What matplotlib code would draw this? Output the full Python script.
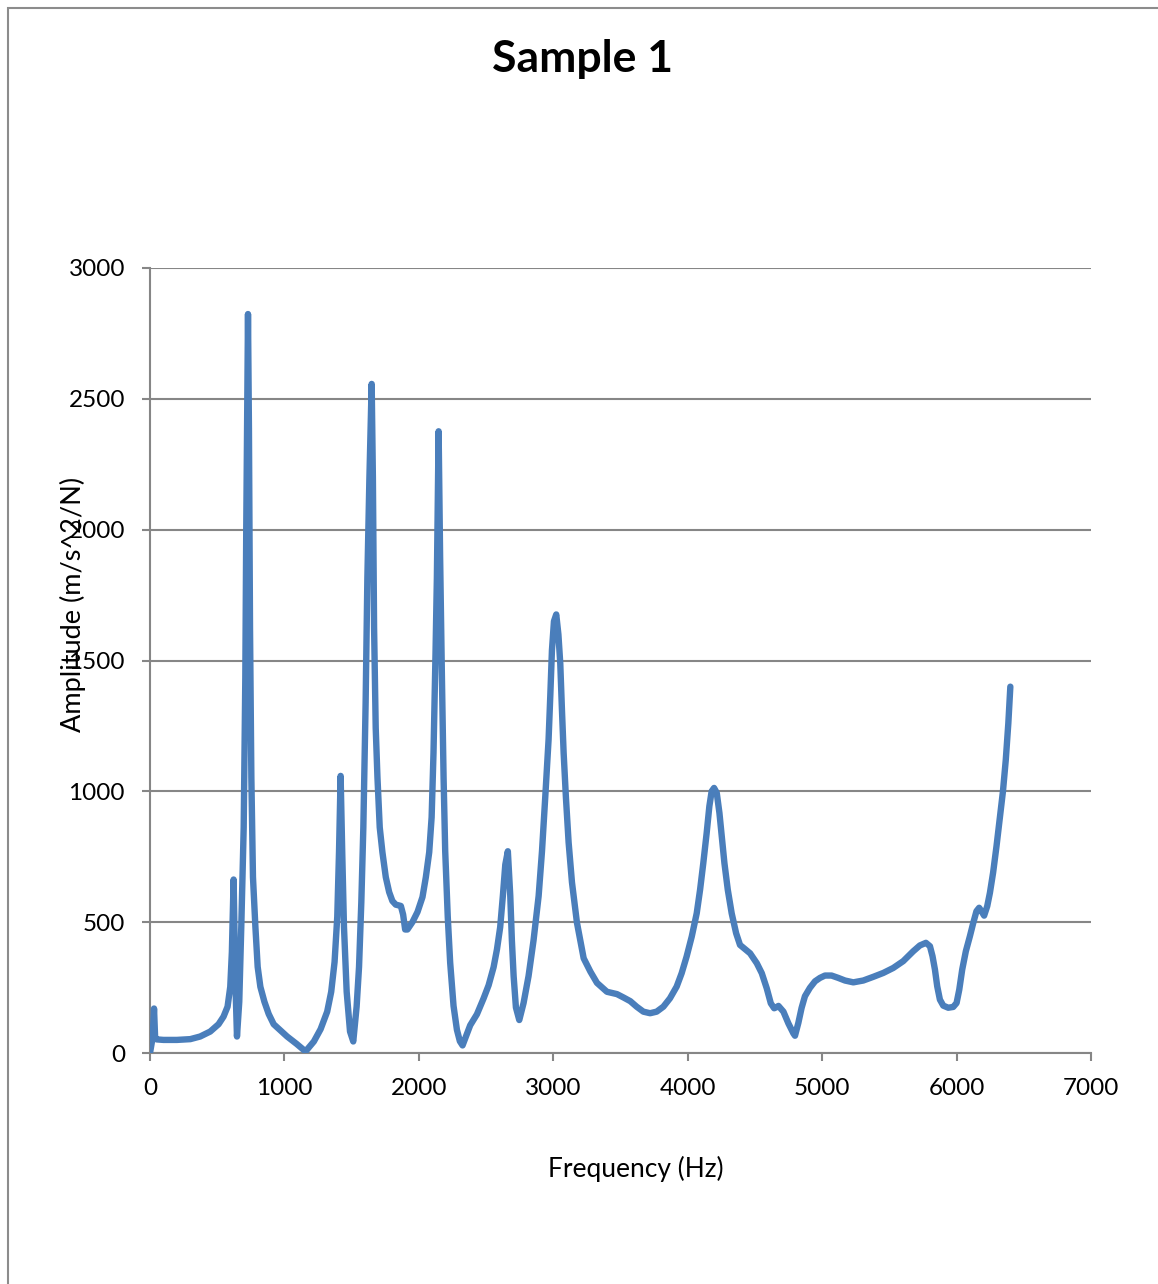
import matplotlib
matplotlib.use("Agg")
import matplotlib.pyplot as plt
from matplotlib.patches import Rectangle

plt.rcParams['font.family'] = ['Lato', 'DejaVu Sans']

# frequency response, Sample 1
freq = [0, 20, 30, 38, 50, 100, 200, 300, 373, 448, 510, 547, 577, 597, 609, 622,
        634, 647, 664, 679, 697, 709, 716, 724, 729, 736, 744, 754, 766, 784, 801,
        821, 851, 883, 920, 1020, 1090, 1157, 1219, 1269, 1318, 1348, 1373, 1393,
        1406, 1418, 1430, 1443, 1463, 1488, 1512, 1537, 1555, 1572, 1587, 1604,
        1617, 1632, 1649, 1658, 1667, 1679, 1692, 1709, 1729, 1754, 1779, 1803,
        1828, 1866, 1883, 1898, 1915, 1953, 1990, 2027, 2052, 2077, 2095, 2109,
        2124, 2134, 2147, 2158, 2171, 2184, 2196, 2215, 2233, 2258, 2283, 2305,
        2325, 2382, 2432, 2481, 2519, 2556, 2581, 2605, 2625, 2643, 2662, 2680,
        2692, 2705, 2722, 2747, 2779, 2816, 2853, 2891, 2916, 2940, 2965, 2978,
        2990, 3005, 3022, 3038, 3052, 3064, 3077, 3094, 3114, 3139, 3176, 3226,
        3276, 3325, 3399, 3474, 3523, 3573, 3620, 3670, 3720, 3769, 3819, 3868,
        3918, 3955, 3992, 4030, 4067, 4092, 4116, 4141, 4161, 4178, 4196, 4216,
        4236, 4253, 4273, 4298, 4327, 4360, 4389, 4427, 4464, 4514, 4551, 4588,
        4618, 4643, 4660, 4675, 4712, 4749, 4786, 4798, 4823, 4847, 4872, 4909,
        4947, 4984, 5021, 5070, 5120, 5170, 5232, 5306, 5380, 5455, 5529, 5603,
        5678, 5727, 5772, 5802, 5821, 5839, 5856, 5876, 5901, 5938, 5975, 6000,
        6020, 6042, 6069, 6099, 6124, 6148, 6168, 6185, 6205, 6228, 6248, 6272,
        6297, 6322, 6345, 6366, 6385, 6400]
amp = [0, 60, 170, 60, 52, 50, 50, 53, 63, 82, 110, 139, 177, 253, 386, 663,
       291, 63, 196, 482, 862, 1434, 2005, 2481, 2824, 2386, 1624, 1053, 672, 482, 329,
       253, 196, 149, 110, 63, 35, 6, 44, 91, 158, 234, 348, 520,
       767, 1059, 767, 482, 234, 82, 44, 177, 329, 577, 862, 1338,
       1815, 2195, 2557, 2200, 1624, 1243, 1053, 862, 767, 672, 615, 581,
       567, 562, 529, 472, 472, 501, 539, 596, 672, 767, 901, 1148,
       1529, 1815, 2376, 1900, 1454, 1050, 771, 520, 345, 180, 89, 45,
       29, 106, 148, 208, 259, 328, 396, 481, 601, 720, 771, 601,
       430, 294, 174, 126, 191, 294, 430, 600, 771, 976, 1198, 1369,
       1539, 1650, 1676, 1600, 1488, 1317, 1147, 976, 805, 652, 498, 362,
       311, 268, 234, 225, 212, 198, 177, 158, 152, 158, 177, 209,
       254, 305, 369, 445, 534, 624, 726, 841, 943, 1000, 1013, 994,
       917, 828, 726, 624, 534, 458, 413, 397, 381, 343, 305, 247,
       190, 171, 175, 180, 158, 113, 75, 66, 115, 172, 217, 249,
       274, 287, 296, 296, 287, 277, 270, 277, 291, 306, 325, 351,
       389, 411, 421, 408, 370, 319, 255, 204, 181, 173, 176, 191,
       242, 319, 389, 446, 497, 542, 555, 542, 525, 561, 612, 690,
       790, 900, 1000, 1120, 1260, 1400]

fig = plt.figure(figsize=(11.58, 12.84), dpi=100)
ax = fig.add_axes([150 / 1158, 231 / 1284, 941 / 1158, 785 / 1284])

# outer chart frame (only left and top edges fall inside the image)
fig.patches.append(Rectangle((8 / 1158, -0.1), 1.2, 1.1 - 8 / 1284,
                             transform=fig.transFigure, fill=False,
                             edgecolor='#8c8c8c', linewidth=1.5))

ax.plot(freq, amp, color='#4a7ebb', linewidth=4.6, solid_joinstyle='round',
        solid_capstyle='round', zorder=3)

ax.set_xlim(0, 7000)
ax.set_ylim(0, 3000)
ax.set_xticks(range(0, 7001, 1000))
ax.set_yticks(range(0, 3001, 500))
ax.yaxis.grid(True, color='#868686', linewidth=1.5)
ax.set_axisbelow(True)

for s in ['top', 'right']:
    ax.spines[s].set_visible(False)
for s in ['left', 'bottom']:
    ax.spines[s].set_color('#868686')
    ax.spines[s].set_linewidth(1.5)
ax.tick_params(axis='both', direction='out', length=6, width=1.5, color='#868686',
               labelsize=17.5, pad=12)

ax.set_xlabel('Frequency (Hz)', fontsize=19)
ax.xaxis.set_label_coords(0.516, -0.131)
ax.set_ylabel('Amplitude (m/s^2/N)', fontsize=19.5)
ax.yaxis.set_label_coords(-0.068, 0.572)

fig.text(582 / 1158, 1 - 59 / 1284, 'Sample 1', fontsize=32, fontweight='bold',
         ha='center', va='center')

fig.savefig('out.png', dpi=100)
